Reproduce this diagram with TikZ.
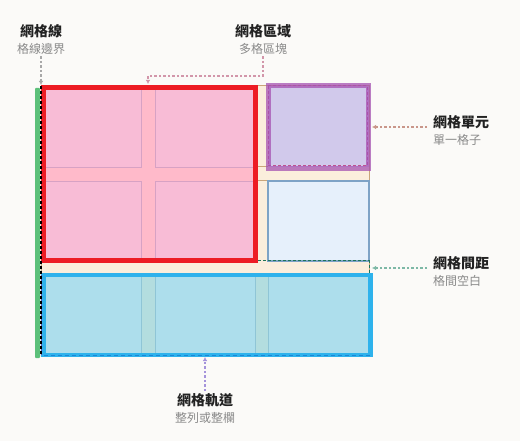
\documentclass[tikz,border=0pt]{standalone}
\usepackage{fontspec}
\setmainfont{Noto Sans CJK TC}
\usepackage{tikz}
\usetikzlibrary{arrows.meta,positioning}

\definecolor{pagebg}{HTML}{FBFAF8}
\definecolor{gridbeige}{HTML}{FBEEDC}
\definecolor{gridtan}{HTML}{C9A57A}
\definecolor{gappink}{HTML}{FFBACA}
\definecolor{cellpink}{HTML}{F8BCD6}
\definecolor{cellline}{HTML}{D7A2C4}
\definecolor{redline}{HTML}{ED1C24}
\definecolor{cellviolet}{HTML}{D1C9EB}
\definecolor{rosedash}{HTML}{C0508F}
\definecolor{cellpurple}{HTML}{A552B2}
\definecolor{cellice}{HTML}{E6F0FB}
\definecolor{cellsteel}{HTML}{7EA3C6}
\definecolor{gapgreen}{HTML}{1E7458}
\definecolor{trackfill}{HTML}{ADDEEC}
\definecolor{bandblue}{HTML}{B3DDDF}
\definecolor{bandline}{HTML}{8FC5D6}
\definecolor{trackblue}{HTML}{2EB2EC}
\definecolor{trackdark}{HTML}{1C86D6}
\definecolor{trackviolet}{HTML}{5050B8}
\definecolor{linegreen}{HTML}{5CC07A}
\definecolor{titlegray}{HTML}{222222}
\definecolor{subgray}{HTML}{8A8A8A}
\definecolor{linearrow}{HTML}{A8A8A8}
\definecolor{areaarrow}{HTML}{D296AA}
\definecolor{cellarrow}{HTML}{C9968A}
\definecolor{gaparrow}{HTML}{7DB8A6}
\definecolor{trackarrow}{HTML}{A593DB}

\begin{document}
\begin{tikzpicture}[x=1pt,y=-1pt]

	\tikzstyle note title=[font=\fontsize{14}{16}\selectfont\bfseries, text=titlegray, inner sep=2pt];
	\tikzstyle note sub=[font=\fontsize{12}{14}\selectfont, text=subgray, inner sep=2pt];
	\tikzstyle note arrow=[line width=1.3pt, dash pattern=on 2.5pt off 2pt, -{Latex[length=4pt,width=4.5pt]}];
	\tikzstyle cell box=[fill=cellpink, draw=cellline, line width=0.8pt];
	\tikzstyle band box=[fill=bandblue, draw=bandline, line width=0.8pt];
	\tikzstyle thin dashes=[dash pattern=on 3pt off 2pt];

	\fill[pagebg] (0,0) rectangle (520,441);
	\useasboundingbox (0,0) rectangle (520,441);

	% grid container
	\filldraw[fill=gridbeige, draw=gridtan, line width=1pt] (41,86) rectangle (369,355);
		\foreach \y in {167,181}
			\draw[gridtan, line width=1pt] (41,\y) -- (369,\y);

	% grid area
	\fill[gappink] (41,86) rectangle (258,263);
		\foreach \x/\y in {41/86,155/86,41/181,155/181}
			\draw[cell box] (\x,\y) rectangle ++(100,81);
	\draw[redline, line width=5pt] (43.5,87.5) rectangle (255.5,260.5);

	% grid cell
	\fill[cellviolet] (268,86) rectangle (369,167);
	\draw[rosedash, line width=1pt, thin dashes] (268,86) rectangle (367,166);
	\draw[cellpurple, opacity=0.75, line width=5pt] (268.5,85.5) rectangle (368.5,168.5);

	\filldraw[fill=cellice, draw=cellsteel, line width=1.2pt] (268,181) rectangle (369,261);

	% grid gap
	\draw[gapgreen, line width=1pt, thin dashes] (258,261) -- (369,261) -- (369,274);

	% grid track
	\fill[trackfill] (43.5,275) rectangle (370.5,355);
		\foreach \x/\w in {141/14,255/13}
			\draw[band box] (\x,275) rectangle ++(\w,80);
	\draw[trackblue, line width=4.5pt] (43.5,275) rectangle (370.5,355);
	\draw[trackdark, line width=1pt, dash pattern=on 4pt off 3pt] (43.5,355) -- (370.5,355);

	% grid line
	\fill[linegreen, rounded corners=1pt] (35,88) rectangle (40,358);
	\draw[trackviolet, line width=1.5pt] (41.5,275) -- (41.5,355);
	\draw[black, line width=1.2pt, thin dashes] (41,86) -- (41,355);

	% notes
	\node[note title] (lineTitle) at (41,31) {網格線};
	\node[note sub, below=1pt of lineTitle] (lineSub) {格線邊界};
	\coordinate (lineTip) at (41,85);
	\draw[note arrow, linearrow] (lineSub.south) -- (lineTip);

	\node[note title] (areaTitle) at (263,31) {網格區域};
	\node[note sub, below=1pt of areaTitle] (areaSub) {多格區塊};
	\coordinate (areaBend) at (148,76);
	\coordinate (areaTip) at (148,84);
	\draw[note arrow, areaarrow] (areaSub.south) |- (areaBend) -- (areaTip);

	\node[note title, anchor=west] (cellTitle) at (431,122) {網格單元};
	\node[note sub, below=1pt of cellTitle.south west, anchor=north west] (cellSub) {單一格子};
	\coordinate (cellTip) at (372,127);
	\draw[note arrow, cellarrow] ([xshift=-4pt,yshift=-5pt]cellTitle.west) -- (cellTip);

	\node[note title, anchor=west] (gapTitle) at (431,263) {網格間距};
	\node[note sub, below=1pt of gapTitle.south west, anchor=north west] (gapSub) {格間空白};
	\coordinate (gapTip) at (372,268);
	\draw[note arrow, gaparrow] ([xshift=-4pt,yshift=-5pt]gapTitle.west) -- (gapTip);

	\node[note title] (trackTitle) at (205,400) {網格軌道};
	\node[note sub, below=1pt of trackTitle] (trackSub) {整列或整欄};
	\coordinate (trackTip) at (205,357);
	\draw[note arrow, trackarrow] (trackTitle.north) -- (trackTip);

\end{tikzpicture}
\end{document}
